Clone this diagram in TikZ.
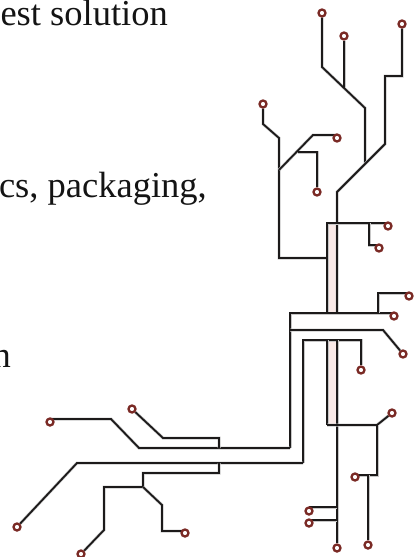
\documentclass[tikz,border=0pt]{standalone}
\usepackage{fontspec}
\setmainfont{Liberation Serif}
\definecolor{wire}{HTML}{1C1A1A}
\definecolor{ringc}{HTML}{7A2A25}
\definecolor{barc}{HTML}{F9E9E7}
\pgfdeclarelayer{front}
\pgfsetlayers{main,front}
\tikzset{
  term/.style={circle,draw=ringc,fill=white,line width=2.3pt,inner sep=0pt,minimum size=7pt},
  wires/.style={draw=wire,line width=1.8pt,line join=miter,preaction={draw=black!22,line width=3pt}},
  txt/.style={inner sep=0pt,font=\fontsize{36.5pt}{36.5pt}\selectfont,text=black!92}
}
\begin{document}
\begin{tikzpicture}[x=1pt,y=-1pt]
\useasboundingbox (0,0) rectangle (414,557);
\clip (0,0) rectangle (414,557);
\node[txt,anchor=base east] (t1) at (168,25) {est solution};
\node[txt,anchor=base east] (t2) at (207,197) {cs, packaging,};
\node[txt,anchor=base east] (t3) at (11,367) {n};
\fill[barc] (327,223) rectangle (337,313);
\fill[barc] (327,340) rectangle (337,425);
\begin{pgfonlayer}{front}
\foreach \n/\x/\y in {A/322/13,B/344/36,C/402/24,D/263/104,E/337/138,F/317/192,
  G/388/226,H/379/248,I/409/296,J/394/316,K/403/354,L/361/370,
  M/392/413,N/355/477,O/368/545,P/337/548,Q/309/511,R/309/523,
  S/50/422,T/132/409,U/17/527,V/81/554,W/185/533}
  \node[term] (\n) at (\x,\y) {};
\end{pgfonlayer}
\foreach \n/\x/\y in {a1/322/67,a2/365/108,a3/365/163,b1/344/88,
  c1/402/76,c2/385/76,c3/385/144,c4/337/192,c5/337/313,
  d1/263/124,d2/279/138,d3/279/258,d4/327/258,d5/279/170,
  e1/313/135,e2/298/152,f1/317/152,
  g0/327/223,g1/327/313,h0/369/223,h1/369/245,
  j0/290/313,i0/378/313,i1/378/293,k0/290/330,k1/383/330,
  m0/303/340,l0/361/340,m1/327/340,m2/337/340,m3/327/425,m4/337/425,m5/377/425,
  n0/377/475,o0/368/475,p1/337/507,p2/337/520,
  j1/290/448,u0/303/463,u1/77/463,s1/111/419,s2/139/448,
  t4/163/438,t5/219/438,t6/219/448,v0/219/463,v1/219/473,v2/143/473,v3/143/487,
  v4/104/487,v5/104/530,w1/162/505,w2/162/531}
  \coordinate (\n) at (\x,\y);
% upper tree
\draw[wires] (A) -- (a1) -- (a2) -- (a3);
\draw[wires] (B) -- (b1);
\draw[wires] (C) -- (c1) -- (c2) -- (c3) -- (c4) -- (c5);
\draw[wires] (D) -- (d1) -- (d2) -- (d3) -- (d4);
\draw[wires] (d5) -- (e1) -- (e1 -| E);
\draw[wires] (e2) -- (f1) -- (F);
% bar and right branches
\draw[wires] (g1) -- (g0) -- (g0 -| G);
\draw[wires] (h0) -- (h1) -- (h1 -| H);
\draw[wires] (j1) -- (j0) -- (j0 -| J);
\draw[wires] (i0) -- (i1) -- (i1 -| I);
\draw[wires] (k0) -- (k1) -- (K);
\draw[wires] (u0) -- (m0) -- (l0) -- (L);
\draw[wires] (m3) -- (m1);
\draw[wires] (m2) -- (P);
\draw[wires] (m3) -- (m5) -- (M);
\draw[wires] (m5) -- (n0) -- (n0 -| N);
\draw[wires] (o0) -- (O);
\draw[wires] (p1) -- (p1 -| Q);
\draw[wires] (p2) -- (p2 -| R);
% lower-left tree
\draw[wires] (j1) -- (s2) -- (s1) -- (s1 -| S);
\draw[wires] (t6) -- (t5) -- (t4) -- (T);
\draw[wires] (u0) -- (u1) -- (U);
\draw[wires] (v0) -- (v1) -- (v2) -- (v3) -- (v4) -- (v5) -- (V);
\draw[wires] (v3) -- (w1) -- (w2) -- (w2 -| W);
\end{tikzpicture}
\end{document}
